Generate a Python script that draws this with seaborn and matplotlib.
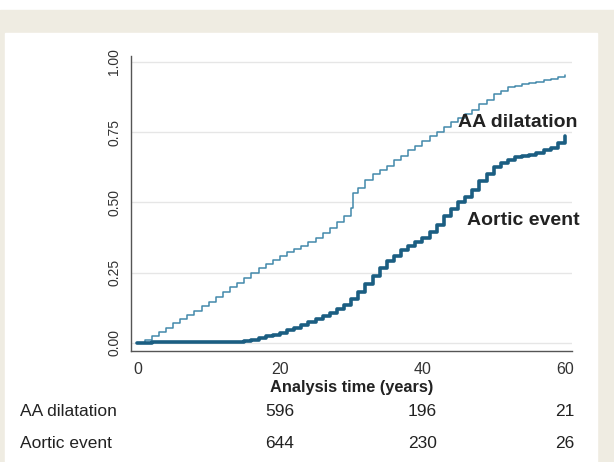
import numpy as np
import pandas as pd
import matplotlib.pyplot as plt
import matplotlib.transforms as mtransforms
from matplotlib.patches import Rectangle
import seaborn as sns

# cumulative incidence, one step per year
aa_time = [0, 1, 2, 3, 4, 5, 6, 7, 8, 9, 10, 11, 12, 13, 14, 15, 16, 17, 18, 19,
           20, 21, 22, 23, 24, 25, 26, 27, 28, 29, 30, 30.3, 31, 32, 33, 34, 35,
           36, 37, 38, 39, 40, 41, 42, 43, 44, 45, 46, 47, 48, 49, 50, 51, 52,
           53, 54, 55, 56, 57, 58, 59, 60]
aa_value = [0, 0.01, 0.025, 0.04, 0.055, 0.07, 0.085, 0.10, 0.115, 0.13, 0.145,
            0.165, 0.18, 0.20, 0.215, 0.23, 0.25, 0.265, 0.28, 0.295, 0.31, 0.325,
            0.335, 0.345, 0.36, 0.375, 0.39, 0.41, 0.43, 0.45, 0.48, 0.535, 0.55,
            0.58, 0.60, 0.615, 0.63, 0.65, 0.665, 0.685, 0.70, 0.72, 0.735, 0.75,
            0.77, 0.785, 0.80, 0.815, 0.83, 0.85, 0.865, 0.885, 0.895, 0.91, 0.915,
            0.92, 0.925, 0.93, 0.935, 0.94, 0.945, 0.955]

ae_time = [0, 2, 5, 8, 12, 15, 16, 17, 18, 19, 20, 21, 22, 23, 24, 25, 26, 27,
           28, 29, 30, 31, 32, 33, 34, 35, 36, 37, 38, 39, 40, 41, 42, 43, 44, 45,
           46, 47, 48, 49, 50, 51, 52, 53, 54, 55, 56, 57, 58, 59, 60]
ae_value = [0, 0.002, 0.003, 0.004, 0.005, 0.007, 0.012, 0.018, 0.024, 0.03,
            0.037, 0.045, 0.055, 0.065, 0.075, 0.085, 0.095, 0.105, 0.12, 0.135,
            0.155, 0.18, 0.21, 0.24, 0.265, 0.29, 0.31, 0.33, 0.345, 0.36, 0.375,
            0.395, 0.42, 0.45, 0.475, 0.50, 0.52, 0.545, 0.575, 0.60, 0.625, 0.64,
            0.65, 0.66, 0.665, 0.67, 0.675, 0.685, 0.695, 0.71, 0.735]

risk_groups = ['AA dilatation', 'Aortic event']
risk_times = [20, 40, 60]
risk_counts = [[596, 196, 21], [644, 230, 26]]

sns.set_style('white')
plt.rcParams['font.family'] = ['Liberation Sans', 'DejaVu Sans']

fig = plt.figure(figsize=(6.14, 4.62), dpi=100)
fig.patches.append(Rectangle((0, 0), 1, 0.978, transform=fig.transFigure,
                             color='#efece2', zorder=-2))
fig.patches.append(Rectangle((5 / 614, 0), 592 / 614, 0.9286, transform=fig.transFigure,
                             color='white', zorder=-1))

ax = fig.add_axes([0.2134, 0.2403, 0.7182, 0.6385])
ax.set_facecolor('none')

aa = pd.DataFrame({'t': aa_time, 'v': aa_value})
ae = pd.DataFrame({'t': ae_time, 'v': ae_value})
sns.lineplot(data=aa, x='t', y='v', drawstyle='steps-post', color='#4389ab',
             linewidth=1.1, ax=ax, estimator=None)
sns.lineplot(data=ae, x='t', y='v', drawstyle='steps-post', color='#1b5e82',
             linewidth=2.6, ax=ax, estimator=None)

ax.set_xlim(-0.9, 61)
ax.set_ylim(-0.0285, 1.021)
ax.set_xticks([0, 20, 40, 60])
ax.set_yticks([0, 0.25, 0.5, 0.75, 1.0])
ax.set_yticklabels(['0.00', '0.25', '0.50', '0.75', '1.00'], rotation=90, va='center')
ax.yaxis.grid(True, color='#e6e6e6', linewidth=1)
ax.xaxis.grid(False)
for s in ['top', 'right']:
    ax.spines[s].set_visible(False)
for s in ['left', 'bottom']:
    ax.spines[s].set_color('#555555')
    ax.spines[s].set_linewidth(1)
ax.tick_params(axis='x', direction='out', length=5, width=1, color='#555555',
               labelsize=11.5, labelcolor='#333333', pad=3)
ax.tick_params(axis='y', direction='out', length=5, width=1, color='#555555',
               labelsize=10, labelcolor='#333333', pad=2)
ax.set_xlabel('Analysis time (years)', fontsize=11.8, fontweight='bold', labelpad=2,
              color='#222222')
ax.set_ylabel('')

ax.text(45.0, 0.786, 'AA dilatation', fontsize=14, fontweight='bold', va='center',
        ha='left', clip_on=False, color='#222222')
ax.text(46.2, 0.436, 'Aortic event', fontsize=14, fontweight='bold', va='center',
        ha='left', clip_on=False, color='#222222')

# numbers at risk below the axis
trans = mtransforms.blended_transform_factory(ax.transData, fig.transFigure)
row_y = [(462 - 411) / 462, (462 - 444) / 462]
for name, counts, y in zip(risk_groups, risk_counts, row_y):
    fig.text(20 / 614, y, name, fontsize=12.5, va='center', ha='left', color='#222222')
    for t, c in zip(risk_times, counts):
        ax.text(t, y, str(c), transform=trans, fontsize=12.5, va='center', ha='center',
                color='#222222', clip_on=False)

fig.savefig('out.png', dpi=100)
